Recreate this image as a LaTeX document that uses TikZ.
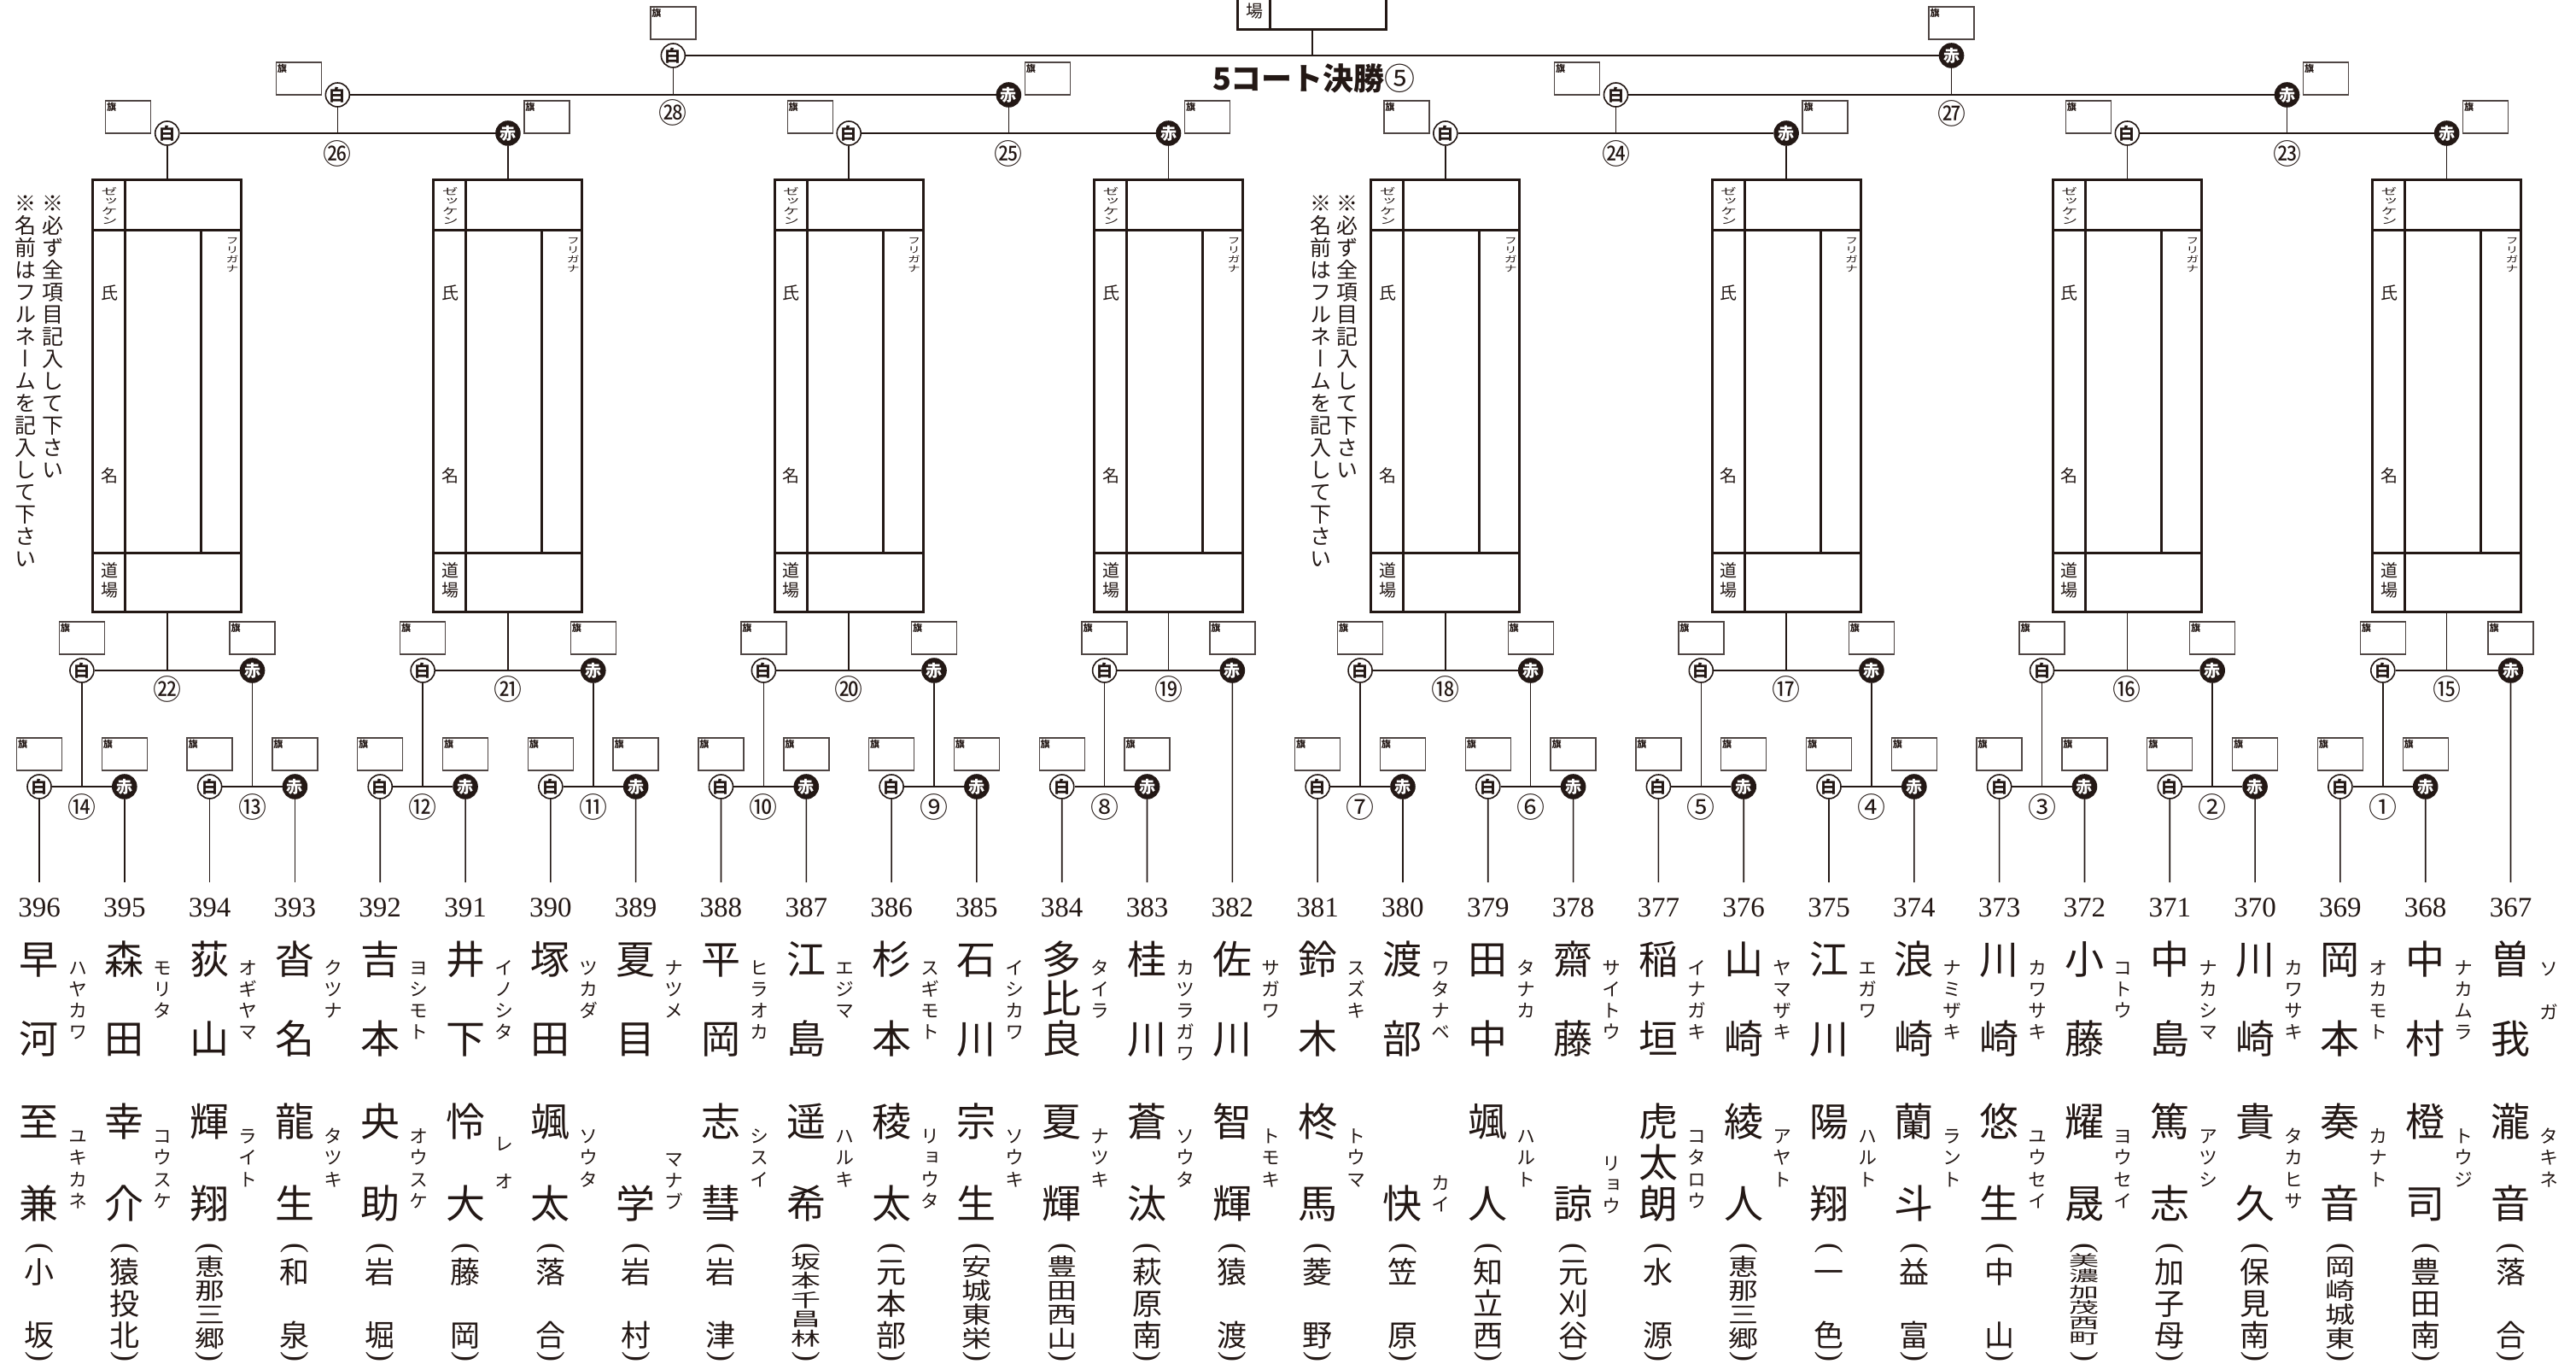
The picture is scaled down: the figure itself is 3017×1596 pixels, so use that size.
\documentclass[tikz,border=0pt]{standalone}
\usepackage{fontspec}
\usepackage{graphicx}
\setmainfont{Liberation Serif}
\newfontfamily\jp[RawFeature=+vert]{Noto Sans CJK JP}
\newfontfamily\jph{Noto Sans CJK JP}
\usetikzlibrary{calc}
\definecolor{ink}{HTML}{231815}
\newcommand\fs[1]{\fontsize{#1}{#1}\selectfont}
\newcommand\cj{\vrule height .88em depth .12em width 0pt\relax}
\newcommand\eb[1]{\cj\smash{#1}}
\newcount\nch
\tikzset{
  ch/.style={inner sep=0pt, outer sep=0pt, text=ink},
  hline/.style={draw=ink, line width=2.3pt},
  vline/.style={draw=ink, line width=1.6pt},
  cardline/.style={draw=ink, line width=3pt},
  cardbox/.style={minimum width=174pt, minimum height=506pt, inner sep=0pt, outer sep=0pt},
  flagbox/.style={draw=ink!80, line width=1.4pt, fill=white, minimum width=53pt, minimum height=38pt, inner sep=0pt},
  flagtxt/.style={inner sep=0pt, font=\jph\bfseries\fs{11}, text=ink},
  shiro/.style={circle, draw=ink, line width=1.6pt, fill=white, minimum size=28pt, inner sep=0pt, font=\jph\bfseries\fs{19}, text=ink},
  aka/.style={circle, draw=ink, line width=1.6pt, fill=ink, minimum size=28pt, inner sep=0pt, font=\jph\bfseries\fs{19}, text=white},
  mnum/.style={inner sep=0pt, font=\jph\fs{33}, text=ink},
  pnum/.style={inner sep=0pt, font=\fs{33}, text=ink},
  paren/.style={inner sep=0pt, outer sep=0pt, text=ink, font=\fs{36}, rotate=-90},
}
% vertical stack (em-box positioned): x, first y, pitch, font size, yscale, list
\newcommand\vstk[6]{\foreach \jc [count=\jk from 0] in {#6} {\node[ch, font=\jp\fs{#4}] at ({#1}, {#2+\jk*#3}) {\scalebox{1}[#5]{\eb{\jc}}};}}
% spread chars between two centres (single char at bottom)
\newcommand\spread[5]{%
  \global\nch=0 \foreach \jc in {#5}{\global\advance\nch by 1}%
  \ifnum\nch=1
    \node[ch, font=\jp\fs{#4}] at ({#1},#3) {\eb{#5}};
  \else
    \pgfmathsetmacro\jpp{(#3-#2)/(\the\nch-1)}%
    \foreach \jc [count=\jk from 0] in {#5}{\node[ch, font=\jp\fs{#4}] at ({#1},{#2+\jk*\jpp}) {\eb{\jc}};}%
  \fi}
\newcommand\school[2]{%
  \global\nch=0 \foreach \jc in {#2}{\global\advance\nch by 1}%
  \ifcase\nch \or \def\schT{1526}\def\schP{0}\def\schS{1}%
  \or \def\schT{1489}\def\schP{74}\def\schS{1}%
  \or \def\schT{1489}\def\schP{37}\def\schS{1}%
  \or \def\schT{1483}\def\schP{28}\def\schS{.78}%
  \or \def\schT{1477}\def\schP{22.5}\def\schS{.62}%
  \or \def\schT{1476}\def\schP{18.2}\def\schS{.5}%
  \fi
  \vstk{#1}{\schT}{\schP}{35}{\schS}{#2}%
  \node[paren] at ({#1},1461) {(};
  \node[paren] at ({#1},1588) {)};}
\newcommand\player[5]{%
  \coordinate (p#2) at (46+99.81*#1,1033);
  \node[pnum] (num#2) at (46+99.81*#1,1063) {#2};
  \spread{46+99.81*#1}{1123}{1216}{46}{#3}%
  \spread{46+99.81*#1}{1313}{1409}{46}{#4}%
  \school{46+99.81*#1}{#5}}
\newcommand\furi[4]{\vstk{46+99.81*#1+45}{#2}{#3}{22}{1}{#4}}
\newcommand\sfuri[2]{\furi{#1}{1133}{25}{#2}}
\newcommand\gfuri[2]{\furi{#1}{1330}{25.5}{#2}}
\newcommand\flagc[3]{%
  \node[flagbox] (#1) at (#2,#3) {};
  \node[flagtxt, anchor=north west] at ([xshift=2pt,yshift=-3pt]#1.north west) {旗};}
% match: id, xw, xr, y, mode (c centred flags / s side flags), number text, number y
\newcommand\match[7]{%
  \node[shiro] (w#1) at (#2,#4) {白};
  \node[aka] (r#1) at (#3,#4) {赤};
  \coordinate (m#1) at ({(#2+#3)/2},#4);
  \draw[hline] (w#1) -- (r#1);
  \if c#5\flagc{fw#1}{#2}{#4-38}\flagc{fr#1}{#3}{#4-38}%
  \else\flagc{fw#1}{#2-45.5}{#4-19}\flagc{fr#1}{#3+45.5}{#4-19}\fi
  \node[mnum] (mn#1) at ({(#2+#3)/2},#7) {#6};}
\newcommand\cardframe[3]{%
  \node[cardbox] (#1) at (#2,#3) {};
  \draw[cardline] (#1.north west) rectangle (#1.south east);
  \draw[cardline] ([yshift=-59pt]#1.north west) -- ([yshift=-59pt]#1.north east);
  \draw[cardline] ([yshift=69pt]#1.south west) -- ([yshift=69pt]#1.south east);
  \draw[cardline] ([xshift=38pt]#1.north west) -- ([xshift=38pt]#1.south west);
  \draw[cardline] ([xshift=127pt,yshift=-59pt]#1.north west) -- ([xshift=127pt,yshift=69pt]#1.south west);}
\newcommand\card[3]{%
  \cardframe{#1}{#2}{#3}%
  \vstk{#2-67.5}{#3-239}{11.5}{19}{.58}{ゼ,ッ,ケ,ン}%
  \vstk{#2+76.5}{#3-181.5}{11}{15}{.68}{フ,リ,ガ,ナ}%
  \node[ch,font=\jp\fs{20}] at (#2-67.5,#3-120) {\eb{氏}};
  \node[ch,font=\jp\fs{20}] at (#2-67.5,#3+94) {\eb{名}};
  \node[ch,font=\jp\fs{20}] at (#2-67.5,#3+205) {\eb{道}};
  \node[ch,font=\jp\fs{20}] at (#2-67.5,#3+228) {\eb{場}};}
\begin{document}
\begin{tikzpicture}[x=1pt,y=-1pt]
\useasboundingbox (0,0) rectangle (3017,1596);
\clip (0,0) rectangle (3017,1596);
\fill[white] (0,0) rectangle (3017,1596);
% ---------- cards ----------
\cardframe{fcard}{1536.92}{-219}
\node[ch,font=\jp\fs{20}] (fcardjo) at (1469.4,13) {\eb{場}};
\card{card1}{195.72}{463}
\card{card2}{594.96}{463}
\card{card3}{994.20}{463}
\card{card4}{1368.49}{463}
\card{card5}{1692.87}{463}
\card{card6}{2092.11}{463}
\card{card7}{2491.35}{463}
\card{card8}{2865.64}{463}
% ---------- notes ----------
\vstk{62}{238}{26}{25}{1}{※,必,ず,全,項,目,記,入,し,て,下,さ,い}
\vstk{30}{238}{26}{25}{1}{※,名,前,は,フ,ル,ネ,ー,ム,を,記,入,し,て,下,さ,い}
\vstk{1578}{238}{26}{25}{1}{※,必,ず,全,項,目,記,入,し,て,下,さ,い}
\vstk{1547}{238}{26}{25}{1}{※,名,前,は,フ,ル,ネ,ー,ム,を,記,入,し,て,下,さ,い}
% ---------- final ----------
\node[shiro] (wF) at (788.35,65) {白};
\node[aka] (rF) at (2285.5,65) {赤};
\coordinate (mF) at (1536.92,65);
\draw[hline] (wF) -- (rF);
\flagc{fwF}{788.35}{27}
\flagc{frF}{2285.5}{27}
\node[inner sep=0pt, text=ink] (title) at (1539,92) {\jph\fs{36}\bfseries 5コート決勝\mdseries ⑤};
% ---------- level 2 ----------
\match{28}{395.34}{1181.35}{111}{s}{㉘}{132}
\match{27}{1892.49}{2678.50}{111}{s}{㉗}{133}
% ---------- level 3 ----------
\match{26}{195.72}{594.96}{156}{s}{㉖}{180}
\match{25}{994.20}{1368.49}{156}{s}{㉕}{180}
\match{24}{1692.87}{2092.11}{156}{s}{㉔}{180}
\match{23}{2491.35}{2865.64}{156}{s}{㉓}{180}
% ---------- level 4 ----------
\match{22}{95.91}{295.53}{785}{c}{㉒}{807}
\match{21}{495.15}{694.77}{785}{c}{㉑}{807}
\match{20}{894.39}{1094.01}{785}{c}{⑳}{807}
\match{19}{1293.63}{1443.34}{785}{c}{⑲}{807}
\match{18}{1593.06}{1792.68}{785}{c}{⑱}{807}
\match{17}{1992.30}{2191.92}{785}{c}{⑰}{807}
\match{16}{2391.54}{2591.16}{785}{c}{⑯}{807}
\match{15}{2790.78}{2940.49}{785}{c}{⑮}{807}
% ---------- level 5 ----------
\match{14}{46}{145.81}{921}{c}{⑭}{945}
\match{13}{245.62}{345.43}{921}{c}{⑬}{945}
\match{12}{445.24}{545.05}{921}{c}{⑫}{945}
\match{11}{644.86}{744.67}{921}{c}{⑪}{945}
\match{10}{844.48}{944.29}{921}{c}{⑩}{945}
\match{9}{1044.1}{1143.91}{921}{c}{⑨}{945}
\match{8}{1243.72}{1343.53}{921}{c}{⑧}{945}
\match{7}{1543.15}{1642.96}{921}{c}{⑦}{945}
\match{6}{1742.77}{1842.58}{921}{c}{⑥}{945}
\match{5}{1942.39}{2042.2}{921}{c}{⑤}{945}
\match{4}{2142.01}{2241.82}{921}{c}{④}{945}
\match{3}{2341.63}{2441.44}{921}{c}{③}{945}
\match{2}{2541.25}{2641.06}{921}{c}{②}{945}
\match{1}{2740.87}{2840.68}{921}{c}{①}{945}
% ---------- players ----------
\player{0}{396}{早,河}{至,兼}{小,坂}
\sfuri{0}{ハ,ヤ,カ,ワ}\gfuri{0}{ユ,キ,カ,ネ}
\player{1}{395}{森,田}{幸,介}{猿,投,北}
\sfuri{1}{モ,リ,タ}\gfuri{1}{コ,ウ,ス,ケ}
\player{2}{394}{荻,山}{輝,翔}{恵,那,三,郷}
\sfuri{2}{オ,ギ,ヤ,マ}\gfuri{2}{ラ,イ,ト}
\player{3}{393}{沓,名}{龍,生}{和,泉}
\sfuri{3}{ク,ツ,ナ}\gfuri{3}{タ,ツ,キ}
\player{4}{392}{吉,本}{央,助}{岩,堀}
\sfuri{4}{ヨ,シ,モ,ト}\gfuri{4}{オ,ウ,ス,ケ}
\player{5}{391}{井,下}{怜,大}{藤,岡}
\sfuri{5}{イ,ノ,シ,タ}\furi{5}{1339}{44}{レ,オ}
\player{6}{390}{塚,田}{颯,太}{落,合}
\sfuri{6}{ツ,カ,ダ}\gfuri{6}{ソ,ウ,タ}
\player{7}{389}{夏,目}{学}{岩,村}
\sfuri{7}{ナ,ツ,メ}\furi{7}{1357}{25}{マ,ナ,ブ}
\player{8}{388}{平,岡}{志,彗}{岩,津}
\sfuri{8}{ヒ,ラ,オ,カ}\gfuri{8}{シ,ス,イ}
\player{9}{387}{江,島}{遥,希}{坂,本,千,昌,林}
\sfuri{9}{エ,ジ,マ}\gfuri{9}{ハ,ル,キ}
\player{10}{386}{杉,本}{稜,太}{元,本,部}
\sfuri{10}{ス,ギ,モ,ト}\gfuri{10}{リ,ョ,ウ,タ}
\player{11}{385}{石,川}{宗,生}{安,城,東,栄}
\sfuri{11}{イ,シ,カ,ワ}\gfuri{11}{ソ,ウ,キ}
\player{12}{384}{多,比,良}{夏,輝}{豊,田,西,山}
\sfuri{12}{タ,イ,ラ}\gfuri{12}{ナ,ツ,キ}
\player{13}{383}{桂,川}{蒼,汰}{萩,原,南}
\sfuri{13}{カ,ツ,ラ,ガ,ワ}\gfuri{13}{ソ,ウ,タ}
\player{14}{382}{佐,川}{智,輝}{猿,渡}
\sfuri{14}{サ,ガ,ワ}\gfuri{14}{ト,モ,キ}
\player{15}{381}{鈴,木}{柊,馬}{菱,野}
\sfuri{15}{ス,ズ,キ}\gfuri{15}{ト,ウ,マ}
\player{16}{380}{渡,部}{快}{笠,原}
\sfuri{16}{ワ,タ,ナ,ベ}\furi{16}{1385}{25}{カ,イ}
\player{17}{379}{田,中}{颯,人}{知,立,西}
\sfuri{17}{タ,ナ,カ}\gfuri{17}{ハ,ル,ト}
\player{18}{378}{齋,藤}{諒}{元,刈,谷}
\sfuri{18}{サ,イ,ト,ウ}\furi{18}{1362}{25}{リ,ョ,ウ}
\player{19}{377}{稲,垣}{虎,太,朗}{水,源}
\sfuri{19}{イ,ナ,ガ,キ}\gfuri{19}{コ,タ,ロ,ウ}
\player{20}{376}{山,崎}{綾,人}{恵,那,三,郷}
\sfuri{20}{ヤ,マ,ザ,キ}\gfuri{20}{ア,ヤ,ト}
\player{21}{375}{江,川}{陽,翔}{一,色}
\sfuri{21}{エ,ガ,ワ}\gfuri{21}{ハ,ル,ト}
\player{22}{374}{浪,崎}{蘭,斗}{益,富}
\sfuri{22}{ナ,ミ,ザ,キ}\gfuri{22}{ラ,ン,ト}
\player{23}{373}{川,崎}{悠,生}{中,山}
\sfuri{23}{カ,ワ,サ,キ}\gfuri{23}{ユ,ウ,セ,イ}
\player{24}{372}{小,藤}{耀,晟}{美,濃,加,茂,西,町}
\sfuri{24}{コ,ト,ウ}\gfuri{24}{ヨ,ウ,セ,イ}
\player{25}{371}{中,島}{篤,志}{加,子,母}
\sfuri{25}{ナ,カ,シ,マ}\gfuri{25}{ア,ツ,シ}
\player{26}{370}{川,崎}{貴,久}{保,見,南}
\sfuri{26}{カ,ワ,サ,キ}\gfuri{26}{タ,カ,ヒ,サ}
\player{27}{369}{岡,本}{奏,音}{岡,崎,城,東}
\sfuri{27}{オ,カ,モ,ト}\gfuri{27}{カ,ナ,ト}
\player{28}{368}{中,村}{橙,司}{豊,田,南}
\sfuri{28}{ナ,カ,ム,ラ}\gfuri{28}{ト,ウ,ジ}
\player{29}{367}{曽,我}{瀧,音}{落,合}
\furi{29}{1134}{51}{ソ,ガ}\gfuri{29}{タ,キ,ネ}
% ---------- connectors ----------
\draw[vline] (w14) -- (p396); \draw[vline] (r14) -- (p395);
\draw[vline] (w13) -- (p394); \draw[vline] (r13) -- (p393);
\draw[vline] (w12) -- (p392); \draw[vline] (r12) -- (p391);
\draw[vline] (w11) -- (p390); \draw[vline] (r11) -- (p389);
\draw[vline] (w10) -- (p388); \draw[vline] (r10) -- (p387);
\draw[vline] (w9) -- (p386); \draw[vline] (r9) -- (p385);
\draw[vline] (w8) -- (p384); \draw[vline] (r8) -- (p383);
\draw[vline] (r19) -- (p382);
\draw[vline] (w7) -- (p381); \draw[vline] (r7) -- (p380);
\draw[vline] (w6) -- (p379); \draw[vline] (r6) -- (p378);
\draw[vline] (w5) -- (p377); \draw[vline] (r5) -- (p376);
\draw[vline] (w4) -- (p375); \draw[vline] (r4) -- (p374);
\draw[vline] (w3) -- (p373); \draw[vline] (r3) -- (p372);
\draw[vline] (w2) -- (p371); \draw[vline] (r2) -- (p370);
\draw[vline] (w1) -- (p369); \draw[vline] (r1) -- (p368);
\draw[vline] (r15) -- (p367);
\draw[vline] (m14) -- (m14 |- w22.south); \draw[vline] (m13) -- (m13 |- r22.south);
\draw[vline] (m12) -- (m12 |- w21.south); \draw[vline] (m11) -- (m11 |- r21.south);
\draw[vline] (m10) -- (m10 |- w20.south); \draw[vline] (m9) -- (m9 |- r20.south);
\draw[vline] (m8) -- (m8 |- w19.south);
\draw[vline] (m7) -- (m7 |- w18.south); \draw[vline] (m6) -- (m6 |- r18.south);
\draw[vline] (m5) -- (m5 |- w17.south); \draw[vline] (m4) -- (m4 |- r17.south);
\draw[vline] (m3) -- (m3 |- w16.south); \draw[vline] (m2) -- (m2 |- r16.south);
\draw[vline] (m1) -- (m1 |- w15.south);
\draw[vline] (m22) -- (m22 |- card1.south);
\draw[vline] (m21) -- (m21 |- card2.south);
\draw[vline] (m20) -- (m20 |- card3.south);
\draw[vline] (m19) -- (m19 |- card4.south);
\draw[vline] (m18) -- (m18 |- card5.south);
\draw[vline] (m17) -- (m17 |- card6.south);
\draw[vline] (m16) -- (m16 |- card7.south);
\draw[vline] (m15) -- (m15 |- card8.south);
\draw[vline] (card1.north) -- (w26); \draw[vline] (card2.north) -- (r26);
\draw[vline] (card3.north) -- (w25); \draw[vline] (card4.north) -- (r25);
\draw[vline] (card5.north) -- (w24); \draw[vline] (card6.north) -- (r24);
\draw[vline] (card7.north) -- (w23); \draw[vline] (card8.north) -- (r23);
\draw[vline] (m26) -- (m26 |- w28.south); \draw[vline] (m25) -- (m25 |- r28.south);
\draw[vline] (m24) -- (m24 |- w27.south); \draw[vline] (m23) -- (m23 |- r27.south);
\draw[vline] (m28) -- (m28 |- wF.south); \draw[vline] (m27) -- (m27 |- rF.south);
\draw[vline] (mF) -- (mF |- fcard.south);
\end{tikzpicture}
\end{document}
